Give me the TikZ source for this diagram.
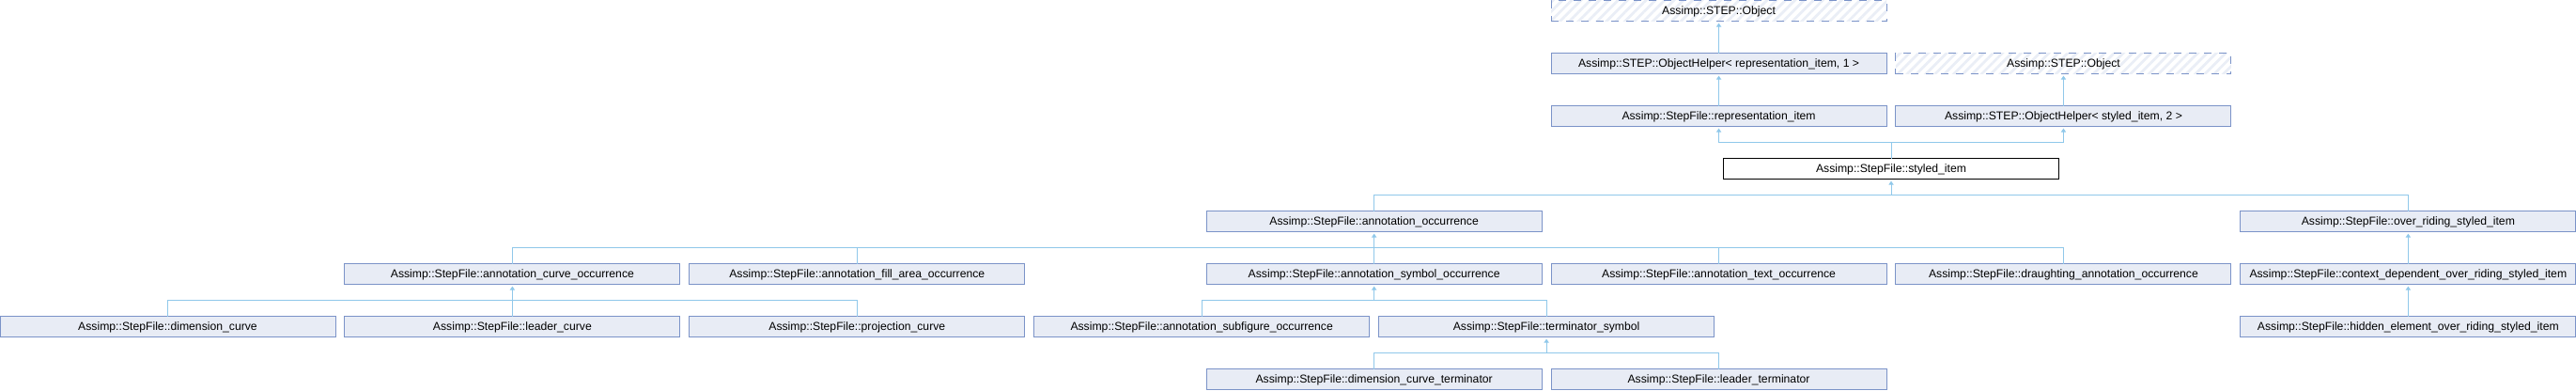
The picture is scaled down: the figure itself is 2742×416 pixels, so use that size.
\documentclass[tikz,border=0pt]{standalone}
\usepackage{fontspec}
\setmainfont{Liberation Sans}
\usetikzlibrary{calc,arrows.meta,patterns.meta}
\definecolor{boxfill}{HTML}{E8ECF5}
\definecolor{boxline}{HTML}{7B93C8}
\definecolor{hatchfill}{HTML}{EAEEF6}
\definecolor{edgeblue}{HTML}{90C8EA}

\begin{document}
\begin{tikzpicture}[x=0.5pt,y=-0.5pt,font=\fontsize{6.1}{7}\selectfont,
    basebox/.style={draw=boxline,fill=boxfill,line width=0.5pt,
      minimum width=178.5pt,minimum height=11pt,inner sep=0pt,outer sep=0pt},
    extbox/.style={basebox,fill=none,
      pattern={Lines[angle=45,distance=3.5pt,line width=1.4pt]},pattern color=hatchfill,
      dash pattern=on 4pt off 4pt},
    curbox/.style={basebox,draw=black,fill=white},
    edge/.style={draw=edgeblue,line width=0.5pt},
    tip/.style={edge,-{Triangle[width=2.6pt,length=2pt]},shorten >=0.8pt}]
    \useasboundingbox (0,0) rectangle (2742,416);
    % boxes: name / column / row / style / text
    \foreach \n/\k/\r/\s/\t in {%
      obj/4.5/0/extbox/{Assimp::STEP::Object},%
      ohrep/4.5/1/basebox/{Assimp::STEP::ObjectHelper< representation\_item, 1 >},%
      obj2/5.5/1/extbox/{Assimp::STEP::Object},%
      rep/4.5/2/basebox/{Assimp::StepFile::representation\_item},%
      ohsty/5.5/2/basebox/{Assimp::STEP::ObjectHelper< styled\_item, 2 >},%
      sty/5/3/curbox/{Assimp::StepFile::styled\_item},%
      annocc/3.5/4/basebox/{Assimp::StepFile::annotation\_occurrence},%
      ovr/6.5/4/basebox/{Assimp::StepFile::over\_riding\_styled\_item},%
      anncurve/1/5/basebox/{Assimp::StepFile::annotation\_curve\_occurrence},%
      annfill/2/5/basebox/{Assimp::StepFile::annotation\_fill\_area\_occurrence},%
      annsym/3.5/5/basebox/{Assimp::StepFile::annotation\_symbol\_occurrence},%
      anntext/4.5/5/basebox/{Assimp::StepFile::annotation\_text\_occurrence},%
      draught/5.5/5/basebox/{Assimp::StepFile::draughting\_annotation\_occurrence},%
      ctxdep/6.5/5/basebox/{Assimp::StepFile::context\_dependent\_over\_riding\_styled\_item},%
      dimcurve/0/6/basebox/{Assimp::StepFile::dimension\_curve},%
      leadcurve/1/6/basebox/{Assimp::StepFile::leader\_curve},%
      projcurve/2/6/basebox/{Assimp::StepFile::projection\_curve},%
      annsub/3/6/basebox/{Assimp::StepFile::annotation\_subfigure\_occurrence},%
      termsym/4/6/basebox/{Assimp::StepFile::terminator\_symbol},%
      hidden/6.5/6/basebox/{Assimp::StepFile::hidden\_element\_over\_riding\_styled\_item},%
      dimterm/3.5/7/basebox/{Assimp::StepFile::dimension\_curve\_terminator},%
      leadterm/4.5/7/basebox/{Assimp::StepFile::leader\_terminator}}
      \node[\s] (\n) at ({\k*366.9+178.5},{12+56*\r}) {\t};
    % bus points just under each base class
    \foreach \p in {obj,ohrep,obj2,rep,ohsty,sty,annocc,ovr,ctxdep,anncurve,annsym,termsym}{
      \coordinate (\p-bus) at ($(\p.south)+(0,17)$);
      \draw[tip] (\p-bus) -- (\p.south);}
    % child -> base
    \foreach \c/\p in {ohrep/obj,rep/ohrep,ohsty/obj2,sty/rep,sty/ohsty,%
      annocc/sty,ovr/sty,%
      anncurve/annocc,annfill/annocc,annsym/annocc,anntext/annocc,draught/annocc,%
      ctxdep/ovr,hidden/ctxdep,%
      dimcurve/anncurve,leadcurve/anncurve,projcurve/anncurve,%
      annsub/annsym,termsym/annsym,dimterm/termsym,leadterm/termsym}
      \draw[edge] (\c.north) |- (\p-bus);
\end{tikzpicture}
\end{document}
